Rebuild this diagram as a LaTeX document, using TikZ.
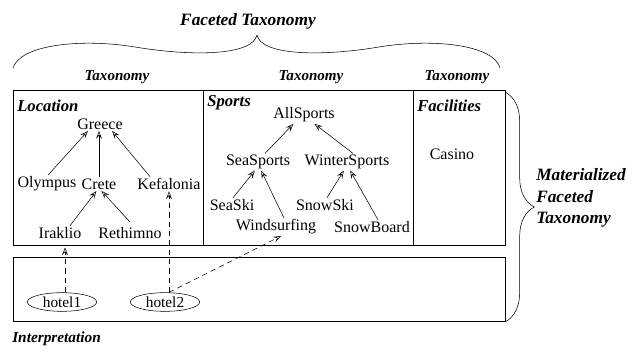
\documentclass[tikz,border=0pt]{standalone}
\usepackage{fontspec}
\setmainfont{Liberation Serif}
\usetikzlibrary{arrows.meta,shapes.geometric,decorations.pathreplacing}

\begin{document}
\begin{tikzpicture}[x=0.75pt,y=0.75pt,yscale=-1,xscale=1,
  term/.style={inner sep=1pt,font=\fontsize{12}{14}\selectfont},
  facet/.style={anchor=west,inner sep=0pt,font=\fontsize{12.5}{15}\selectfont\bfseries\itshape},
  caption/.style={inner sep=0pt,font=\fontsize{11.3}{14}\selectfont\bfseries\itshape},
  isa/.style={-{Stealth[open,length=6pt,width=4.5pt,inset=2.5pt]}},
  inst/.style={dashed,dash pattern=on 4pt off 3pt,-{Stealth[open,length=6pt,width=4.5pt,inset=2.5pt]}},
  object/.style={draw,ellipse,inner sep=0pt,minimum width=52pt,minimum height=14pt,font=\fontsize{11.5}{13}\selectfont}]
\useasboundingbox (0,0) rectangle (640,352);

%Braces
\draw    (13,68) .. controls (20,45) and (80,38) .. (135,47) .. controls (195,57) and (253,55) .. (257,35) ;
\draw    (257,35) .. controls (261,55) and (319,57) .. (379,47) .. controls (434,38) and (494,45) .. (500,68) ;
\draw [decorate,decoration={brace,amplitude=22}]   (505,92) -- (505,322) ;

%Boxes
\draw    (13,90) rectangle (505,245) ;
\draw    (203,90) -- (203,245) ;
\draw    (413,90) -- (413,245) ;
\draw    (13,257) rectangle (505,321) ;

% Text Node
\node (faceted) at (248,21) [caption,font=\fontsize{13}{15}\selectfont\bfseries\itshape] {Faceted Taxonomy};
\node (tax1) at (117,77) [caption] {Taxonomy};
\node (tax2) at (311,77) [caption] {Taxonomy};
\node (tax3) at (457,77) [caption] {Taxonomy};
\node (materialized) at (536,198) [caption,anchor=west,align=left,font=\fontsize{13}{16}\selectfont\bfseries\itshape] {Materialized\\Faceted\\Taxonomy};
\node (interpretation) at (12,339) [caption,anchor=west,font=\fontsize{11.5}{14}\selectfont\bfseries\itshape] {Interpretation};

% Facet names
\node (location) at (17,106) [facet] {Location};
\node (sports) at (207,103) [facet] {Sports};
\node (facilities) at (417,106) [facet] {Facilities};

% Location terms
\node (greece) at (100,124) [term] {Greece};
\node (olympus) at (47,184) [term] {Olympus};
\node (crete) at (99,184) [term] {Crete};
\node (kefalonia) at (169,184) [term] {Kefalonia};
\node (iraklio) at (60,233) [term] {Iraklio};
\node (rethimno) at (130,233) [term] {Rethimno};

% Sports terms
\node (allsports) at (304,115) [term] {AllSports};
\node (seasports) at (258,162) [term] {SeaSports};
\node (wintersports) at (347,162) [term] {WinterSports};
\node (seaski) at (232,205) [term] {SeaSki};
\node (snowski) at (325,205) [term] {SnowSki};
\node (windsurfing) at (276,227) [term] {Windsurfing};
\node (snowboard) at (372,227) [term] {SnowBoard};

% Facilities terms
\node (casino) at (452,154) [term] {Casino};

% Objects
\node (hotel1) at (62,302) [object] {hotel1};
\node (hotel2) at (165,302) [object] {hotel2};

%Subsumption arrows
\draw [isa]  (olympus.north) ++(1,0) -- (greece.210) ;
\draw [isa]  (crete.north) -- (crete.north |- greece.south) ;
\draw [isa]  (kefalonia.north) ++(-19,0) -- (greece.330) ;
\draw [isa]  (iraklio.north) ++(10,0) -- (crete.250) ;
\draw [isa]  (rethimno) ++(0,-11) -- (crete.290) ;
\draw [isa]  (seasports.north) ++(7,0) -- (allsports.220) ;
\draw [isa]  (wintersports.north) ++(6,0) -- (allsports.320) ;
\draw [isa]  (seaski.north) ++(1,0) -- (seasports.250) ;
\draw [isa]  (windsurfing.north) ++(8,0) -- (seasports.290) ;
\draw [isa]  (snowski.north) ++(2,0) -- (wintersports.250) ;
\draw [isa]  (snowboard.north) ++(6,0) -- (wintersports.290) ;

%Instance arrows
\draw [inst]  (hotel1.north) ++(3,0) -- ++(0,-45) coordinate (i1) ;
\draw [inst]  (hotel2.north -| kefalonia.south) -- (kefalonia.south) ;
\draw [inst]  (hotel2.north -| kefalonia.south) -- (windsurfing.-60) ;
\end{tikzpicture}
\end{document}
